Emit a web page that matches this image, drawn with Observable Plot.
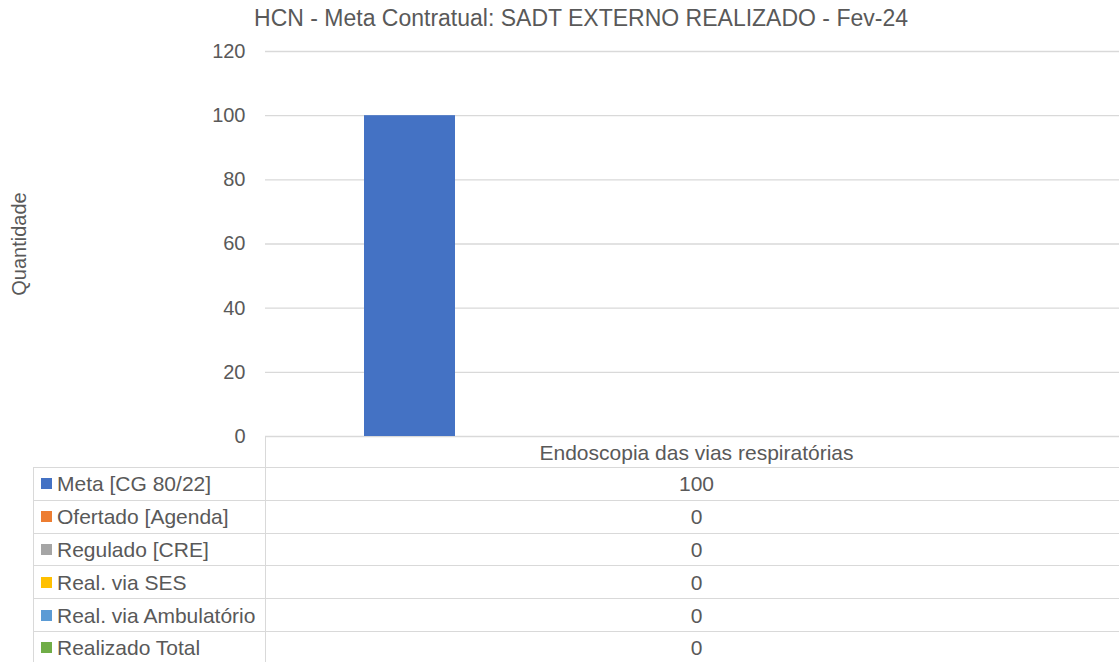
<!DOCTYPE html>
<html><head><meta charset="utf-8">
<script src="https://cdn.jsdelivr.net/npm/d3@7"></script>
<script src="https://cdn.jsdelivr.net/npm/@observablehq/plot@0.6"></script>
<style>
html,body{margin:0;padding:0;background:#fff;overflow:hidden;}
body{width:1119px;height:662px;position:relative;font-family:"Liberation Sans",Arial,sans-serif;color:#595959;}
#chart{position:absolute;left:0;top:0;}
#title{position:absolute;left:0;top:7px;width:1162px;text-align:center;font-size:23px;line-height:1;white-space:nowrap;}
#tbl{position:absolute;left:33px;top:436px;border-collapse:collapse;table-layout:fixed;font-size:21px;}
#tbl td{border:1.5px solid #d9d9d9;padding:0;line-height:1;white-space:nowrap;overflow:hidden;}
#tbl td.lab{padding-left:7px;}
#tbl td.val{text-align:center;}
#tbl td.blank{border-top:none;border-left:none;}
.sw{display:inline-block;width:11px;height:11px;margin-right:5px;vertical-align:2px;}
</style>
</head><body>
<div id="title"></div>
<div id="chart"></div>
<table id="tbl"></table>
<script>
const title = "HCN - Meta Contratual: SADT EXTERNO REALIZADO - Fev-24";
const categories = ["Endoscopia das vias respiratórias"];
const series = ["Meta [CG 80/22]", "Ofertado [Agenda]", "Regulado [CRE]", "Real. via SES", "Real. via Ambulatório", "Realizado Total"];
const values = [100, 0, 0, 0, 0, 0];
const colors = ["#4472C4", "#ED7D31", "#A5A5A5", "#FFC000", "#5B9BD5", "#70AD47"];
const yTicks = [0, 20, 40, 60, 80, 100, 120];
const yLabel = "Quantidade";

const data = series.map((s, i) => ({series: s, category: categories[0], value: values[i]}));

document.getElementById("title").textContent = title;

const chart = Plot.plot({
  width: 1119, height: 662,
  marginTop: 51, marginBottom: 226, marginLeft: 265, marginRight: 0,
  style: {fontFamily: '"Liberation Sans", Arial, sans-serif', color: "#595959", background: "transparent", overflow: "visible"},
  x: {type: "band", domain: series, range: [364, 910], padding: 0, axis: null},
  y: {domain: [0, 120]},
  color: {domain: series, range: colors},
  marks: [
    Plot.gridY(yTicks, {stroke: "#d9d9d9", strokeOpacity: 1, strokeWidth: 1.3}),
    Plot.axisY(yTicks, {tickSize: 0, tickPadding: 20, fontSize: 20, fill: "#595959", label: null}),
    Plot.barY(data, {x: "series", y: "value", fill: "series"}),
    Plot.text([yLabel], {frameAnchor: "left", textAnchor: "middle", lineAnchor: "middle", dx: -246, rotate: -90, fontSize: 20, fill: "#595959"})
  ]
});
document.getElementById("chart").appendChild(chart);

const tbl = document.getElementById("tbl");
const cg = document.createElement("colgroup");
[232, 862].forEach(w => { const c = document.createElement("col"); c.style.width = w + "px"; cg.appendChild(c); });
tbl.appendChild(cg);
tbl.style.width = "1094px";
const hr = document.createElement("tr");
hr.style.height = "31px";
const hb = document.createElement("td"); hb.className = "blank"; hr.appendChild(hb);
const hc = document.createElement("td"); hc.className = "val"; hc.textContent = categories[0]; hr.appendChild(hc);
tbl.appendChild(hr);
series.forEach((s, i) => {
  const tr = document.createElement("tr");
  tr.style.height = "32.8px";
  const l = document.createElement("td"); l.className = "lab";
  const sw = document.createElement("span"); sw.className = "sw"; sw.style.background = colors[i];
  l.appendChild(sw); l.appendChild(document.createTextNode(s));
  const v = document.createElement("td"); v.className = "val"; v.textContent = String(values[i]);
  tr.appendChild(l); tr.appendChild(v);
  tbl.appendChild(tr);
});
</script>
</body></html>
